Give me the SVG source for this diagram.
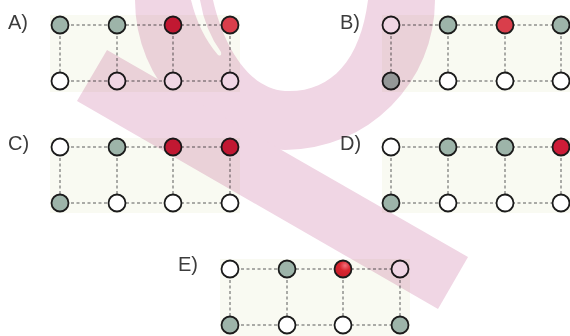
<svg xmlns="http://www.w3.org/2000/svg" width="570" height="336" viewBox="0 0 570 336">
  <style>
    .panel { fill: #f9faf2; }
    .lbl { font-family: "Liberation Sans", Arial, sans-serif; font-size: 20px; fill: #3c3c3c; }
    .link { stroke: #5a5a5a; stroke-width: 1; stroke-dasharray: 3 2.5; fill: none; }
    .n { stroke: #1b1b1b; stroke-width: 1.8; }
    .w { fill: #ffffff; }
    .s { fill: #9db4a9; }
    .r { fill: #cd1c38; }
    .rl { fill: #d93e4b; }
    .rg { fill: url(#shine); }
    .mark { mix-blend-mode: multiply; }
  </style>
  <defs>
    <radialGradient id="shine" cx="0.62" cy="0.3" r="0.7">
      <stop offset="0" stop-color="#f2707a"/>
      <stop offset="0.45" stop-color="#d9262f"/>
      <stop offset="1" stop-color="#c81d2b"/>
    </radialGradient>
  </defs>

  <rect width="570" height="336" fill="#ffffff"/>

  <!-- A -->
  <g id="panelA">
    <rect class="panel" x="50" y="15" width="190" height="77"/>
    <text class="lbl" x="8" y="29">A)</text>
    <g id="A-links" class="link">
      <path d="M60,25H230M60,81H230M60,25V81M117,25V81M173,25V81M230,25V81"/>
    </g>
    <g id="A-t1"><circle class="n s" cx="60" cy="25" r="8.5"/></g>
    <g id="A-t2"><circle class="n s" cx="117" cy="25" r="8.5"/></g>
    <g id="A-t3"><circle class="n r" cx="173" cy="25" r="8.5"/></g>
    <g id="A-t4"><circle class="n rl" cx="230" cy="25" r="8.5"/></g>
    <g id="A-b1"><circle class="n w" cx="60" cy="81" r="8.5"/></g>
    <g id="A-b2"><circle class="n w" cx="117" cy="81" r="8.5"/></g>
    <g id="A-b3"><circle class="n w" cx="173" cy="81" r="8.5"/></g>
    <g id="A-b4"><circle class="n w" cx="230" cy="81" r="8.5"/></g>
  </g>

  <!-- B -->
  <g id="panelB">
    <rect class="panel" x="382" y="15" width="190" height="77"/>
    <text class="lbl" x="340" y="29">B)</text>
    <g id="B-links" class="link">
      <path d="M391,25H561M391,81H561M391,25V81M448,25V81M505,25V81M561,25V81"/>
    </g>
    <g id="B-t1"><circle class="n w" cx="391" cy="25" r="8.5"/></g>
    <g id="B-t2"><circle class="n s" cx="448" cy="25" r="8.5"/></g>
    <g id="B-t3"><circle class="n rl" cx="505" cy="25" r="8.5"/></g>
    <g id="B-t4"><circle class="n s" cx="561" cy="25" r="8.5"/></g>
    <g id="B-b1"><circle class="n s" cx="391" cy="81" r="8.5"/></g>
    <g id="B-b2"><circle class="n w" cx="448" cy="81" r="8.5"/></g>
    <g id="B-b3"><circle class="n w" cx="505" cy="81" r="8.5"/></g>
    <g id="B-b4"><circle class="n w" cx="561" cy="81" r="8.5"/></g>
  </g>

  <!-- C -->
  <g id="panelC">
    <rect class="panel" x="50" y="138" width="190" height="75"/>
    <text class="lbl" x="8" y="150">C)</text>
    <g id="C-links" class="link">
      <path d="M60,147H230M60,203H230M60,147V203M117,147V203M173,147V203M230,147V203"/>
    </g>
    <g id="C-t1"><circle class="n w" cx="60" cy="147" r="8.5"/></g>
    <g id="C-t2"><circle class="n s" cx="117" cy="147" r="8.5"/></g>
    <g id="C-t3"><circle class="n r" cx="173" cy="147" r="8.5"/></g>
    <g id="C-t4"><circle class="n r" cx="230" cy="147" r="8.5"/></g>
    <g id="C-b1"><circle class="n s" cx="60" cy="203" r="8.5"/></g>
    <g id="C-b2"><circle class="n w" cx="117" cy="203" r="8.5"/></g>
    <g id="C-b3"><circle class="n w" cx="173" cy="203" r="8.5"/></g>
    <g id="C-b4"><circle class="n w" cx="230" cy="203" r="8.5"/></g>
  </g>

  <!-- D -->
  <g id="panelD">
    <rect class="panel" x="382" y="138" width="190" height="75"/>
    <text class="lbl" x="340" y="150">D)</text>
    <g id="D-links" class="link">
      <path d="M391,147H561M391,203H561M391,147V203M448,147V203M505,147V203M561,147V203"/>
    </g>
    <g id="D-t1"><circle class="n w" cx="391" cy="147" r="8.5"/></g>
    <g id="D-t2"><circle class="n s" cx="448" cy="147" r="8.5"/></g>
    <g id="D-t3"><circle class="n s" cx="505" cy="147" r="8.5"/></g>
    <g id="D-t4"><circle class="n r" cx="561" cy="147" r="8.5"/></g>
    <g id="D-b1"><circle class="n s" cx="391" cy="203" r="8.5"/></g>
    <g id="D-b2"><circle class="n w" cx="448" cy="203" r="8.5"/></g>
    <g id="D-b3"><circle class="n w" cx="505" cy="203" r="8.5"/></g>
    <g id="D-b4"><circle class="n w" cx="561" cy="203" r="8.5"/></g>
  </g>

  <!-- E -->
  <g id="panelE">
    <rect class="panel" x="220" y="259" width="190" height="77"/>
    <text class="lbl" x="178" y="271">E)</text>
    <g id="E-links" class="link">
      <path d="M230,269H400M230,325H400M230,269V325M287,269V325M343,269V325M400,269V325"/>
    </g>
    <g id="E-t1"><circle class="n w" cx="230" cy="269" r="8.5"/></g>
    <g id="E-t2"><circle class="n s" cx="287" cy="269" r="8.5"/></g>
    <g id="E-t3"><circle class="n rg" cx="343" cy="269" r="8.5"/></g>
    <g id="E-t4"><circle class="n w" cx="400" cy="269" r="8.5"/></g>
    <g id="E-b1"><circle class="n s" cx="230" cy="325" r="8.5"/></g>
    <g id="E-b2"><circle class="n w" cx="287" cy="325" r="8.5"/></g>
    <g id="E-b3"><circle class="n w" cx="343" cy="325" r="8.5"/></g>
    <g id="E-b4"><circle class="n s" cx="400" cy="325" r="8.5"/></g>
  </g>

  <!-- pink logo mark laid over the page -->
  <g id="mark" class="mark">
    <circle cx="285" cy="0" r="150" fill="#f0d6e4"/>
    <polygon points="107,50 468,257 438,309 77,101" fill="#f0d6e4"/>
    <path d="M213,0 C222,40 245,88 285,91 C330,93 360,62 368,0 Z" fill="#ffffff"/>
    <path d="M191,0 Q199,33 218,55 Q222,57 221,52 Q205,30 200,0 Z" fill="#ffffff"/>
  </g>
</svg>
